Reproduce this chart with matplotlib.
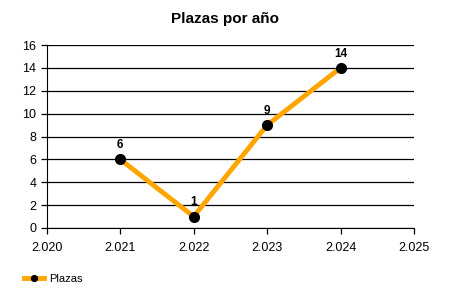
import matplotlib
matplotlib.use("Agg")
import matplotlib.pyplot as plt
from matplotlib.ticker import FuncFormatter

# data
years = [2021, 2022, 2023, 2024]
plazas = [6, 1, 9, 14]
serie = "Plazas"
titulo = "Plazas por año"

plt.rcParams['font.family'] = ['Liberation Sans', 'DejaVu Sans']

fig = plt.figure(figsize=(4.5, 3), dpi=100)
ax = fig.add_axes([0.104, 0.24, 0.816, 0.61])

ax.plot(years, plazas, color='#FFA500', lw=3.5, marker='o', ms=7,
        mfc='black', mec='black', label=serie, zorder=3)
for x, y in zip(years, plazas):
    ax.annotate(str(y), (x, y), xytext=(0, 6), textcoords='offset points',
                ha='center', va='bottom', fontsize=8.5, fontweight='bold')

ax.set_xlim(2020, 2025)
ax.set_ylim(0, 16)
ax.set_xticks(range(2020, 2026))
ax.set_yticks(range(0, 17, 2))
ax.xaxis.set_major_formatter(FuncFormatter(lambda v, p: '{:.3f}'.format(v / 1000)))
ax.grid(axis='y', color='black', lw=0.9)
ax.set_axisbelow(True)
for s in ('top', 'right'):
    ax.spines[s].set_visible(False)
ax.tick_params(labelsize=9, length=4, width=0.9)
ax.tick_params(axis='x', pad=6)

fig.suptitle(titulo, x=0.5, y=0.937, va='center', fontsize=11, fontweight='bold')

fig.legend(loc='lower left', bbox_to_anchor=(0.03, 0.02), frameon=False,
           fontsize=8, handlelength=1.8, handletextpad=0.5, markerscale=0.6)

fig.savefig('out.png', dpi=100)
